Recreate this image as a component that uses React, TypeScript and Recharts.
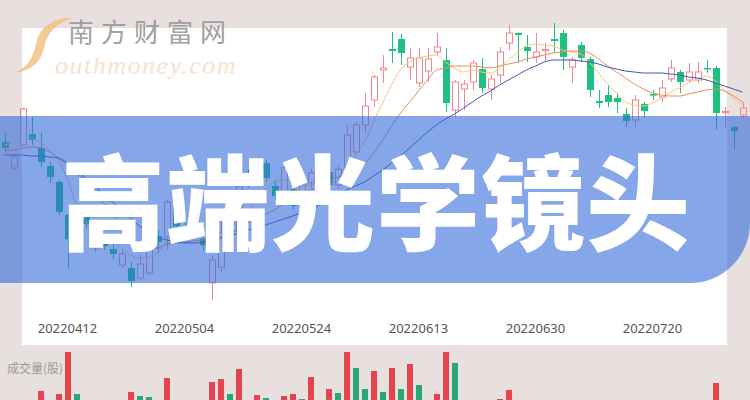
import React from 'react';
import { ComposedChart, BarChart, Bar, Line, XAxis, YAxis, Cell } from 'recharts';

// trading days shown on the chart
const dates = [
  '20220330', '20220331', '20220401', '20220406', '20220407', '20220408', '20220411', '20220412',
  '20220413', '20220414', '20220415', '20220418', '20220419', '20220420', '20220421', '20220422',
  '20220425', '20220426', '20220427', '20220428', '20220504', '20220505', '20220506', '20220509',
  '20220510', '20220511', '20220512', '20220513', '20220516', '20220517', '20220518', '20220519',
  '20220520', '20220524', '20220525', '20220526', '20220527', '20220530', '20220531', '20220601',
  '20220602', '20220606', '20220607', '20220608', '20220609', '20220610', '20220613', '20220614',
  '20220615', '20220616', '20220617', '20220620', '20220621', '20220622', '20220623', '20220624',
  '20220627', '20220628', '20220629', '20220630', '20220701', '20220705', '20220706', '20220707',
  '20220708', '20220711', '20220712', '20220713', '20220714', '20220715', '20220718', '20220719',
  '20220720', '20220721', '20220722', '20220725', '20220726', '20220727', '20220728', '20220729',
  '20220801', '20220802', '20220803',
];

const tickDates = ['20220412', '20220504', '20220524', '20220613', '20220630', '20220720'];
const priceTicks = [50.5, 65.7, 80.9, 96.1];

const openPrices = [
  75.1, 71.2, 74.65, 76.3, 74.2, 71.5, 69.1, 64.2, 58.9, 64.45,
  59.2, 59.95, 59.05, 56.65, 56.2, 54.7, 55.45, 61.0, 60.85, 65.5,
  62.5, 63.8, 60.6, 53.95, 56.35, 62.0, 61.8, 70.2, 69.0, 71.95,
  68.5, 67.2, 68.0, 66.0, 69.0, 70.5, 70.6, 68.65, 71.35, 73.6,
  77.65, 81.4, 85.9, 89.05, 90.55, 86.35, 83.95, 85.75, 88.6, 87.4,
  79.9, 83.05, 84.1, 86.05, 83.05, 85.15, 89.95, 91.45, 89.35, 87.85,
  88.8, 90.55, 91.45, 86.35, 89.65, 87.55, 81.25, 82.15, 81.7, 79.3,
  78.4, 80.8, 82.3, 81.85, 84.55, 85.6, 84.4, 84.4, 86.2, 86.2,
  79.5, 77.35, 79.15,
];
const highPrices = [
  76.45, 73.3, 80.3, 78.85, 76.45, 72.1, 69.4, 64.6, 60.4, 64.9,
  60.3, 60.6, 60.1, 58.9, 57.1, 58.15, 62.65, 61.9, 66.4, 66.2,
  63.5, 64.5, 61.5, 58.15, 63.4, 62.8, 69.0, 71.0, 72.3, 72.5,
  69.3, 71.8, 68.6, 69.5, 71.0, 71.0, 71.2, 71.6, 77.65, 78.1,
  82.45, 85.15, 88.15, 91.6, 91.3, 89.2, 89.2, 89.2, 91.45, 89.2,
  84.4, 84.4, 87.4, 87.7, 85.15, 89.35, 92.65, 91.5, 91.15, 91.45,
  89.95, 92.95, 91.9, 87.85, 90.1, 87.85, 82.9, 83.65, 82.45, 80.2,
  82.15, 81.1, 82.9, 84.4, 87.4, 85.9, 86.95, 87.1, 87.4, 86.5,
  80.35, 77.5, 81.1,
];
const lowPrices = [
  73.6, 70.9, 74.5, 74.65, 71.35, 68.95, 64.15, 56.2, 58.3, 62.2,
  58.6, 58.9, 57.55, 56.2, 53.35, 54.4, 55.15, 58.45, 58.9, 62.0,
  60.2, 62.0, 58.8, 51.4, 55.45, 60.5, 61.3, 68.2, 68.5, 69.2,
  66.4, 66.8, 65.0, 65.5, 68.2, 69.2, 68.3, 68.0, 70.6, 73.3,
  76.45, 80.35, 83.95, 86.95, 86.65, 84.4, 83.35, 84.1, 88.15, 79.6,
  78.85, 79.9, 82.9, 82.45, 81.4, 83.95, 88.9, 86.95, 87.1, 86.95,
  87.1, 88.45, 85.9, 83.95, 87.1, 81.85, 80.2, 80.35, 79.45, 77.35,
  77.35, 78.7, 81.4, 81.1, 84.1, 82.45, 83.95, 83.95, 85.45, 76.9,
  77.35, 73.9, 78.7,
];
const closePrices = [
  74.2, 73.0, 80.05, 75.4, 72.1, 69.85, 64.6, 60.5, 59.8, 62.8,
  59.95, 59.5, 58.3, 58.3, 54.25, 56.8, 61.9, 60.1, 66.1, 62.5,
  61.0, 62.9, 59.6, 57.4, 61.45, 61.5, 68.5, 69.0, 71.5, 69.7,
  67.0, 71.2, 65.5, 69.0, 70.5, 70.0, 68.65, 71.0, 76.15, 77.65,
  80.5, 84.85, 86.2, 88.75, 88.45, 87.7, 87.7, 87.55, 89.35, 80.95,
  84.1, 83.8, 86.95, 83.2, 84.55, 88.6, 91.45, 91.15, 88.75, 88.6,
  89.0, 90.25, 87.85, 87.4, 87.7, 82.9, 80.95, 81.1, 81.1, 78.25,
  81.4, 79.75, 82.05, 83.2, 86.2, 84.1, 85.6, 85.6, 85.98, 79.45,
  79.68, 76.75, 80.2,
];

const ma5 = [
  74.65, 74.95, 75.4, 75.7, 74.95, 73.9, 72.4, 69.4, 65.65, 63.4,
  61.6, 60.7, 60.1, 59.2, 58.15, 57.7, 57.85, 58.6, 59.8, 61.0,
  62.2, 62.5, 62.35, 61.3, 60.4, 60.7, 61.75, 64.15, 66.4, 67.9,
  69.1, 69.4, 68.95, 68.65, 68.65, 68.95, 68.8, 69.7, 71.2, 73.15,
  75.1, 78.1, 80.95, 83.65, 85.9, 87.1, 87.7, 88.0, 88.15, 87.1,
  86.2, 85.6, 85.9, 85.6, 85.45, 86.2, 87.4, 88.6, 89.5, 89.8,
  89.65, 89.5, 88.9, 88.6, 88.3, 87.1, 85.45, 83.8, 82.45, 81.1,
  80.65, 80.5, 80.95, 81.7, 82.6, 83.2, 83.95, 84.55, 85.0, 84.25,
  82.9, 81.7, 80.65,
];
const ma10 = [
  73.9, 73.9, 74.2, 74.35, 74.2, 73.6, 72.7, 71.65, 70.45, 69.25,
  67.6, 65.95, 64.3, 62.65, 61.0, 59.5, 59.2, 59.2, 59.8, 59.95,
  60.1, 60.25, 60.4, 60.4, 60.85, 61.45, 61.9, 62.95, 63.7, 64.3,
  64.9, 65.8, 66.55, 67.3, 67.9, 68.5, 69.25, 69.85, 70.15, 70.75,
  71.8, 73.45, 75.4, 77.5, 79.45, 81.1, 82.75, 84.4, 85.9, 86.2,
  86.5, 86.5, 86.5, 86.35, 86.2, 86.5, 86.8, 87.1, 87.55, 87.85,
  88.15, 88.45, 88.6, 88.75, 88.75, 88.45, 87.55, 86.5, 85.6, 84.7,
  83.8, 83.05, 82.45, 82.15, 82.0, 82.0, 82.3, 82.6, 82.9, 83.05,
  82.75, 82.0, 81.1,
];
const ma20 = [
  73.15, 73.15, 73.15, 73.0, 73.0, 72.85, 72.7, 71.95, 70.9, 69.7,
  68.5, 67.3, 66.1, 64.9, 63.7, 62.5, 61.6, 60.85, 60.4, 60.1,
  59.95, 59.95, 60.1, 60.4, 60.7, 61.0, 61.45, 61.9, 62.2, 62.65,
  63.1, 63.55, 64.0, 64.45, 65.05, 65.65, 66.55, 67.15, 67.9, 68.5,
  69.1, 70.0, 70.9, 71.95, 73.0, 74.2, 75.4, 76.6, 77.65, 78.55,
  79.3, 80.2, 81.1, 82.0, 82.75, 83.65, 84.4, 85.15, 85.9, 86.5,
  87.1, 87.4, 87.4, 87.4, 87.25, 87.1, 86.8, 86.35, 86.05, 85.75,
  85.6, 85.45, 85.45, 85.45, 85.3, 85.15, 84.85, 84.7, 84.4, 83.95,
  83.5, 83.05, 82.6,
];

// volume (only the tallest bars reach into the picture)
const volumes = [
  62, 58, 75, 70, 89, 72, 86, 128, 86, 70,
  60, 55, 58, 65, 88, 84, 83, 72, 102, 70,
  66, 62, 68, 98, 101, 86, 111, 75, 85, 82,
  70, 84, 86, 81, 103, 74, 91, 87, 128, 112,
  91, 109, 88, 112, 91, 116, 95, 78, 86, 128,
  117, 72, 75, 70, 68, 81, 90, 65, 60, 62,
  55, 58, 70, 52, 50, 66, 48, 45, 50, 55,
  60, 48, 42, 50, 62, 55, 52, 48, 45, 97,
  70, 65, 60,
];
const volumeUp = [
  0, 1, 1, 0, 1, 0, 1, 1, 0, 0,
  1, 0, 0, 1, 1, 0, 0, 0, 1, 0,
  0, 0, 0, 1, 1, 0, 1, 0, 1, 0,
  0, 1, 1, 0, 1, 0, 1, 0, 1, 0,
  0, 1, 0, 1, 0, 1, 0, 1, 1, 1,
  0, 1, 1, 0, 1, 1, 1, 0, 0, 1,
  1, 0, 0, 1, 0, 0, 0, 0, 0, 0,
  1, 0, 0, 1, 1, 0, 1, 1, 0, 1,
  1, 0, 1,
];

const RED = '#ef8690';
const GREEN = '#1fc183';
const VOL_RED = '#e5434e';
const VOL_GREEN = '#2aa678';

const data = dates.map((date, i) => ({
  date,
  open: openPrices[i],
  high: highPrices[i],
  low: lowPrices[i],
  close: closePrices[i],
  range: [lowPrices[i], highPrices[i]],
  ma5: ma5[i],
  ma10: ma10[i],
  ma20: ma20[i],
  volume: volumes[i],
  volUp: volumeUp[i],
}));

function Candle(props: any) {
  const { x, y, width, height, payload } = props;
  if (height == null || isNaN(y)) return null;
  const { open, close, high, low } = payload;
  const up = close >= open;
  const k = height / (high - low);
  const cx = Math.round(x + width / 2) + 0.5;
  const top = y + (high - Math.max(open, close)) * k;
  const bottom = y + (high - Math.min(open, close)) * k;
  const color = up ? RED : GREEN;
  const bodyH = Math.max(bottom - top, 1);
  return (
    <g>
      <line x1={cx} x2={cx} y1={y} y2={top} stroke={color} strokeWidth={1} />
      <line x1={cx} x2={cx} y1={top + bodyH} y2={y + height} stroke={color} strokeWidth={1} />
      {up ? (
        <rect x={cx - 3} y={top} width={6} height={bodyH} fill="none" stroke={color} strokeWidth={1} />
      ) : (
        <rect x={cx - 3.5} y={top} width={7} height={bodyH} fill={color} />
      )}
    </g>
  );
}

function PriceTick(props: any) {
  const { y, payload } = props;
  return (
    <text x={8} y={y} dominantBaseline="middle" fontSize={13} fill="#6a6a6a" fontFamily="'Noto Sans', sans-serif">
      {payload.value.toFixed(1)}
    </text>
  );
}

function DateTick(props: any) {
  const { x, y, payload } = props;
  return (
    <text x={x} y={y + 24} textAnchor="middle" dominantBaseline="middle" fontSize={13} fill="#555" fontFamily="'Noto Sans', sans-serif">
      {payload.value}
    </text>
  );
}

export default function App() {
  return (
    <div style={{ position: 'fixed', left: 0, top: 0, width: 750, height: 400, overflow: 'hidden', background: '#e8dfdf' }}>
      <svg width={750} height={400} style={{ position: 'absolute', left: 0, top: 0 }}>
        <rect x={22} y={28} width={705} height={317} fill="#ffffff" />
        {/* watermark swoosh */}
        <path
          d="M73 18 C52 17 39 28 36 44 C33 58 28 67 14 73 C31 71 41 62 44 48 C47 33 56 23 73 18 Z"
          fill="#f2c183"
          opacity={0.85}
        />
        <text x={55} y={74} fontSize={26} letterSpacing={1.5} fontStyle="italic" fontFamily="'Liberation Serif', serif" fill="#f7e3cd">outhmoney.com</text>
        <text x={68} y={42} fontSize={26} letterSpacing={7} fontFamily="'Noto Sans CJK SC', sans-serif" fill="#a0a0a0">南方财富网</text>
      </svg>

      <div style={{ position: 'absolute', left: 0, top: 0 }}>
        <ComposedChart width={750} height={400} data={data} margin={{ top: 2, right: 3, bottom: 64, left: 0 }}>
          <XAxis
            dataKey="date"
            ticks={tickDates}
            interval={0}
            height={30}
            tickSize={0}
            tickMargin={0}
            axisLine={false}
            tickLine={false}
            tick={<DateTick />}
          />
          <YAxis
            domain={[50.5, 96.1]}
            ticks={priceTicks}
            width={0}
            allowDataOverflow
            axisLine={false}
            tickLine={false}
            tick={<PriceTick />}
          />
          <Bar dataKey="range" barSize={7} shape={<Candle />} isAnimationActive={false} />
          <Line type="monotone" dataKey="ma5" stroke="#f4c77e" strokeWidth={1} dot={false} isAnimationActive={false} />
          <Line type="monotone" dataKey="ma10" stroke="#ee8a55" strokeWidth={1} dot={false} isAnimationActive={false} />
          <Line type="monotone" dataKey="ma20" stroke="#4453b2" strokeWidth={1} dot={false} isAnimationActive={false} />
        </ComposedChart>
      </div>

      <svg width={750} height={400} style={{ position: 'absolute', left: 0, top: 0 }}>
        <path d="M0 116 H750 V223 A60 60 0 0 1 690 283 H0 Z" fill="rgb(52,107,217)" opacity={0.6} />
        <text
          x={376}
          y={243}
          textAnchor="middle"
          fontSize={104}
          fontWeight={900}
          letterSpacing={1}
          fontFamily="'Noto Sans CJK SC', sans-serif"
          fill="#ffffff"
        >
          高端光学镜头
        </text>
      </svg>

      <div style={{ position: 'absolute', left: 7, top: 359, fontSize: 12, color: '#9a9a9a', fontFamily: "'Noto Sans CJK SC', sans-serif" }}>
        成交量(股)
      </div>
      <div style={{ position: 'absolute', left: 0, top: 350 }}>
        <BarChart width={750} height={130} data={data} margin={{ top: 0, right: 3, bottom: 0, left: 0 }}>
          <XAxis dataKey="date" hide />
          <YAxis domain={[0, 130]} hide allowDataOverflow />
          <Bar dataKey="volume" barSize={6} isAnimationActive={false}>
            {data.map((d) => (
              <Cell key={d.date} fill={d.volUp ? VOL_RED : VOL_GREEN} />
            ))}
          </Bar>
        </BarChart>
      </div>
    </div>
  );
}
